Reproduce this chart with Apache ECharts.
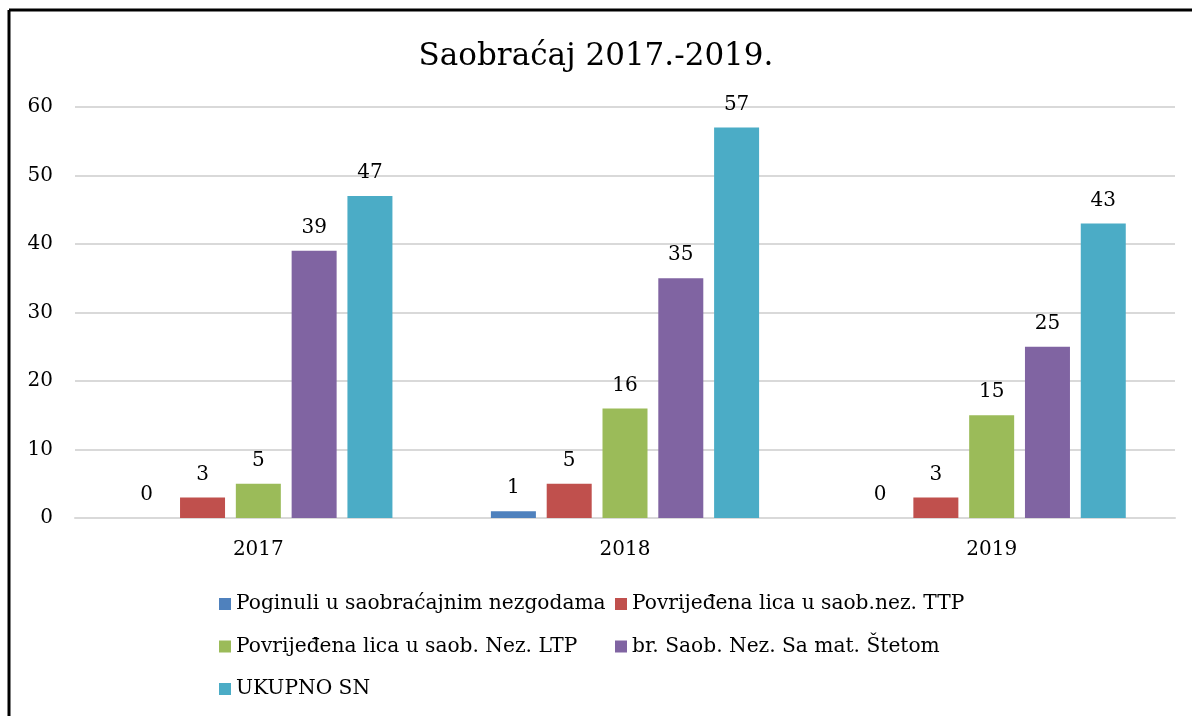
<!DOCTYPE html>
<html>
<head>
<meta charset="utf-8">
<script src="https://cdn.jsdelivr.net/npm/echarts@6/dist/echarts.min.js"></script>
<style>
  html, body { margin: 0; padding: 0; background: #fff; }
  #chart { width: 1192px; height: 716px; }
</style>
</head>
<body>
<div id="chart"></div>
<script>
const years = ['2017', '2018', '2019']
const poginuli = [0, 1, 0]
const povrTTP = [3, 5, 3]
const povrLTP = [5, 16, 15]
const matSteta = [39, 35, 25]
const ukupno = [47, 57, 43]
const yTicks = [0, 10, 20, 30, 40, 50, 60]

const names = [
  'Poginuli u saobraćajnim nezgodama',
  'Povrijeđena lica u saob.nez. TTP',
  'Povrijeđena lica u saob. Nez. LTP',
  'br. Saob. Nez. Sa mat. Štetom',
  'UKUPNO SN'
]
const colors = ['#4F81BD', '#C0504D', '#9BBB59', '#8064A2', '#4BACC6']
const values = [poginuli, povrTTP, povrLTP, matSteta, ukupno]

const font = 'DejaVu Serif'
const myChart = echarts.init(document.getElementById('chart'))

const series = names.map((name, i) => ({
  name: name,
  type: 'bar',
  data: values[i],
  barWidth: 45,
  barGap: '24%',
  itemStyle: { color: colors[i] },
  label: {
    show: true,
    position: 'top',
    distance: 13,
    color: '#000',
    fontFamily: font,
    fontSize: 20,
  },
}))

const legendText = { color: '#000', fontFamily: font, fontSize: 20.2 }

const option = {
  animation: false,
  title: {
    text: 'Saobraćaj 2017.-2019.',
    left: 'center',
    top: 36,
    textStyle: { color: '#000', fontFamily: font, fontSize: 31, fontWeight: 'normal' },
  },
  graphic: [
    { type: 'line', shape: { x1: 9, y1: 10, x2: 1192, y2: 10 }, style: { stroke: '#000', lineWidth: 3 } },
    { type: 'line', shape: { x1: 9, y1: 10, x2: 9, y2: 716 }, style: { stroke: '#000', lineWidth: 3 } },
  ],
  legend: [
    {
      data: [names[0], names[2], names[4]],
      orient: 'vertical',
      left: 214,
      top: 589,
      itemWidth: 12,
      itemHeight: 12,
      itemGap: 22.5,
      icon: 'rect',
      selectedMode: false,
      textStyle: legendText,
    },
    {
      data: [names[1], names[3]],
      orient: 'vertical',
      left: 610,
      top: 589,
      itemWidth: 12,
      itemHeight: 12,
      itemGap: 22.5,
      icon: 'rect',
      selectedMode: false,
      textStyle: legendText,
    },
  ],
  grid: { left: 75, right: 17, top: 107, bottom: 198, containLabel: false },
  xAxis: {
    type: 'category',
    data: years,
    axisLine: { lineStyle: { color: '#d9d9d9', width: 2 } },
    axisTick: { show: false },
    axisLabel: { color: '#000', fontFamily: font, fontSize: 20, margin: 22 },
  },
  yAxis: {
    type: 'value',
    min: yTicks[0],
    max: yTicks[yTicks.length - 1],
    interval: 10,
    axisLine: { show: false },
    axisTick: { show: false },
    axisLabel: { color: '#000', fontFamily: font, fontSize: 20, margin: 22 },
    splitLine: { lineStyle: { color: '#d9d9d9', width: 2 } },
  },
  series: series,
}
myChart.setOption(option)
</script>
</body>
</html>
